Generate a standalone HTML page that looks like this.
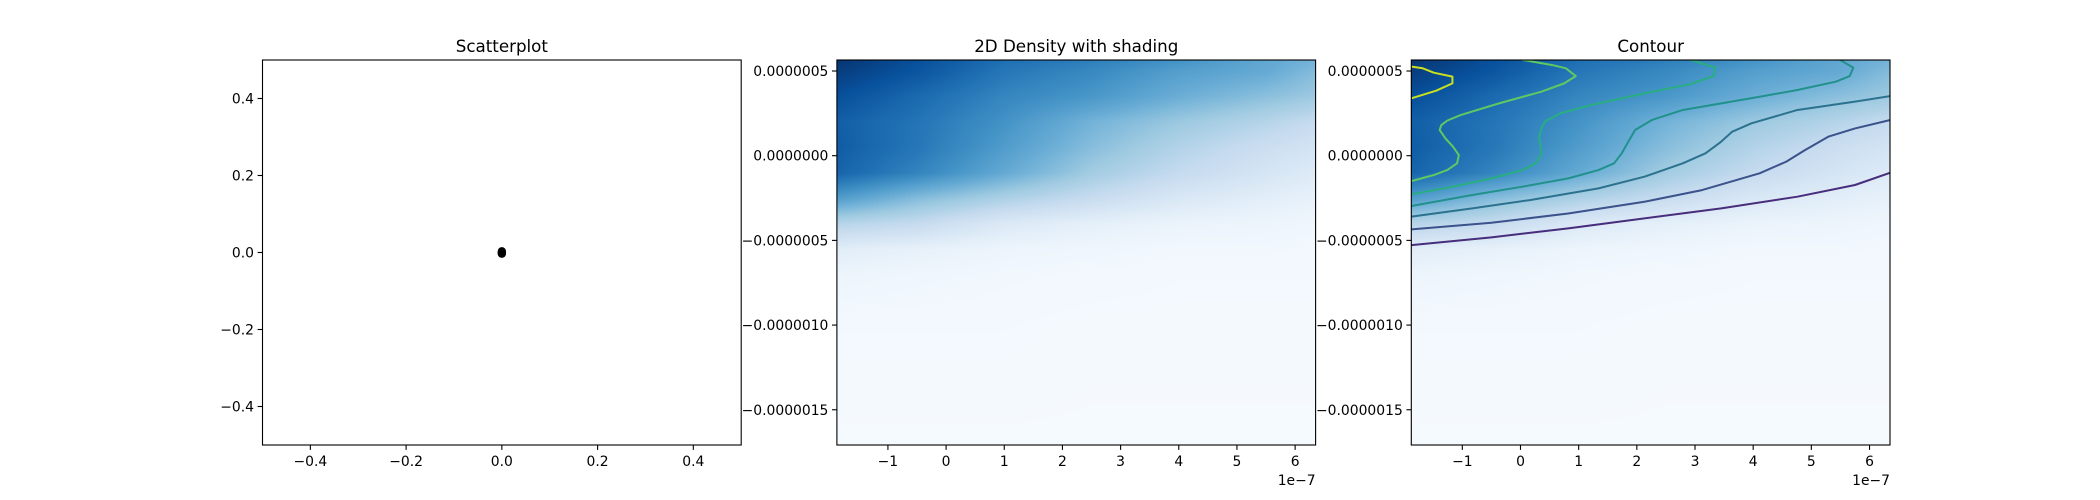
<!DOCTYPE html>
<html><head><meta charset="utf-8"><style>
body{margin:0;background:#fff;}
#wrap{position:relative;width:2100px;height:500px;overflow:hidden;font-family:"DejaVu Sans","Liberation Sans",sans-serif;}
canvas{position:absolute;}
svg{position:absolute;left:0;top:0;}
</style></head><body>
<div id="wrap">
<canvas id="c1" width="479" height="385" style="left:837px;top:60px"></canvas>
<canvas id="c2" width="479" height="385" style="left:1411px;top:60px"></canvas>
<svg id="svg" width="2100" height="500"></svg>
</div>
<script>
// ---- data ----
const scatterX = [0, 0, 0];
const scatterY = [0, 0.003, -0.003];
const scatterTicks = [-0.4, -0.2, 0.0, 0.2, 0.4];
const scatterTickLabels = ["\u22120.4", "\u22120.2", "0.0", "0.2", "0.4"];
const densXTicks = [-1, 0, 1, 2, 3, 4, 5, 6];
const densXTickLabels = ["\u22121", "0", "1", "2", "3", "4", "5", "6"];
const densYTicks = [5, 0, -5, -10, -15];
const densYTickLabels = ["0.0000005", "0.0000000", "\u22120.0000005", "\u22120.0000010", "\u22120.0000015"];
// density grid (x in 1e-7, y in 1e-7)
const gridX = [-1.875, -0.5, 1, 2.5, 4, 5.5, 6.35];
const gridY = [5.65, 5, 3.5, 2, 0.5, -1, -2.5, -4, -5.5, -7, -10, -17.1];
const gridCols = [
 [0.98,0.95,0.88,0.82,0.83,0.80,0.58,0.30,0.11,0.05,0.02,0.01],
 [0.88,0.86,0.78,0.74,0.73,0.68,0.44,0.25,0.08,0.04,0.02,0.01],
 [0.76,0.73,0.67,0.62,0.58,0.52,0.33,0.14,0.05,0.03,0.02,0.01],
 [0.70,0.66,0.60,0.48,0.43,0.36,0.24,0.09,0.04,0.025,0.015,0.01],
 [0.62,0.57,0.50,0.38,0.31,0.25,0.15,0.06,0.03,0.02,0.015,0.01],
 [0.53,0.52,0.42,0.30,0.22,0.17,0.10,0.05,0.03,0.02,0.015,0.01],
 [0.48,0.44,0.375,0.245,0.18,0.125,0.08,0.04,0.025,0.02,0.015,0.01]
];
// contour lines [x,y] pairs in 1e-7 units
const contourLevels = ["c1","c2","c3","c4","c5","c6","c7"];
const contourColors = ["#472d7b","#3b528b","#2c728e","#21918c","#28ae80","#5ec962","#c8e020"];
const contourLines = [
 [[-1.875,-5.28],[-0.5,-4.82],[0.82,-4.29],[2.13,-3.70],[3.45,-3.11],[4.76,-2.42],[5.75,-1.73],[6.36,-1.0]],
 [[-1.875,-4.35],[-0.5,-3.96],[0.82,-3.41],[2.13,-2.72],[3.12,-2.03],[4.11,-1.04],[4.57,-0.35],[4.89,0.33],[5.29,1.12],[5.75,1.61],[6.36,2.11]],
 [[-1.875,-3.60],[-0.83,-3.11],[0.16,-2.62],[1.34,-1.93],[2.13,-1.24],[2.79,-0.45],[3.18,0.14],[3.45,0.83],[3.64,1.42],[3.97,1.91],[4.76,2.70],[5.75,3.19],[6.36,3.52]],
 [[-1.875,-2.97],[-0.83,-2.32],[0.03,-1.83],[0.82,-1.34],[1.34,-0.85],[1.61,-0.45],[1.74,0.14],[1.87,0.93],[1.97,1.52],[2.26,2.11],[2.79,2.70],[3.45,3.09],[4.11,3.48],[4.76,3.88],[5.42,4.37],[5.66,4.70],[5.72,5.20],[5.49,5.66]],
 [[-1.875,-2.28],[-1.16,-1.83],[-0.5,-1.34],[0.03,-0.85],[0.26,-0.45],[0.36,0.14],[0.32,1.12],[0.36,1.61],[0.42,2.01],[0.68,2.50],[1.21,2.99],[2.13,3.68],[2.92,4.23],[3.32,4.70],[3.35,5.20],[2.92,5.66]],
 [[-1.875,-1.50],[-1.49,-1.14],[-1.26,-0.85],[-1.09,-0.45],[-1.06,0.04],[-1.16,0.53],[-1.29,1.02],[-1.39,1.52],[-1.36,1.81],[-1.26,2.07],[-1.03,2.40],[-0.37,3.09],[0.36,3.78],[0.75,4.27],[0.95,4.70],[0.78,5.16],[0.55,5.35],[0.03,5.66]],
 [[-1.875,3.39],[-1.45,3.84],[-1.17,4.27],[-1.17,4.67],[-1.49,4.90],[-1.68,5.16],[-1.875,5.26]]
];
// ---- layout ----
const T=60,B=445,H=385;
const ax=[{l:262.5,r:741.2},{l:836.9,r:1315.6},{l:1411.3,r:1890}];
const NS="http://www.w3.org/2000/svg";
const svg=document.getElementById('svg');
function el(tag,attrs,parent){const e=document.createElementNS(NS,tag);for(const k in attrs)e.setAttribute(k,attrs[k]);(parent||svg).appendChild(e);return e;}
const dx0=-1.877,dx1=6.352,dy0=-17.08,dy1=5.65;
function sx(i,v){return ax[i].l+(v-(-0.5))/1*(ax[i].r-ax[i].l);}
function sy(v){return B-(v+0.5)/1*H;}
function dxs(i,v){return ax[i].l+(v-dx0)/(dx1-dx0)*(ax[i].r-ax[i].l);}
function dys(v){return B-(v-dy0)/(dy1-dy0)*H;}
// Blues colormap
const bl=[[247,251,255],[222,235,247],[198,219,239],[158,202,225],[107,174,214],[66,146,198],[33,113,181],[8,81,156],[8,48,107]];
function blues(v){v=Math.max(0,Math.min(1,v))*8;const i=Math.min(7,Math.floor(v)),f=v-i;return bl[i].map((c,k)=>c+(bl[i+1][k]-c)*f);}
function interp1(arr,v){for(let i=0;i<arr.length-1;i++){const a=arr[i],b=arr[i+1];if((v-a)*(v-b)<=0){return [i,(v-a)/(b-a)];}}return v<arr[0]===(arr[0]<arr[1])?[0,0]:[arr.length-2,1];}
function dens(x,y){const [i,fx]=interp1(gridX,x);const [j,fy]=interp1(gridY,y);
 const a=gridCols[i][j],b=gridCols[i+1][j],c=gridCols[i][j+1],d=gridCols[i+1][j+1];
 return (a*(1-fx)+b*fx)*(1-fy)+(c*(1-fx)+d*fx)*fy;}
function paint(id){const cv=document.getElementById(id);const ctx=cv.getContext('2d');const w=cv.width,h=cv.height;const img=ctx.createImageData(w,h);
 for(let py=0;py<h;py++){const y=dy1-(py+0.5)/h*(dy1-dy0);for(let px=0;px<w;px++){const x=dx0+(px+0.5)/w*(dx1-dx0);const c=blues(dens(x,y));const o=(py*w+px)*4;img.data[o]=c[0];img.data[o+1]=c[1];img.data[o+2]=c[2];img.data[o+3]=255;}}
 ctx.putImageData(img,0,0);}
paint('c1');paint('c2');
const titles=["Scatterplot","2D Density with shading","Contour"];
const fs=13.9;
for(let i=0;i<3;i++){
 const g=el('g',{});
 const t=el('text',{x:(ax[i].l+ax[i].r)/2,y:52,'text-anchor':'middle','font-size':16.7,fill:'#000'},g);t.textContent=titles[i];
 
 
 if(i===0){
  scatterX.forEach((x,k)=>{const c=el('circle',{cx:sx(0,x),cy:sy(scatterY[k]),r:4.2,fill:'#000'},g);
   
   });
  scatterTicks.forEach((v,k)=>{const X=sx(0,v);el('line',{x1:X,x2:X,y1:B,y2:B+4.9,stroke:'#000','stroke-width':1.1},g);
   const tx=el('text',{x:X,y:B+21,'text-anchor':'middle','font-size':fs},g);tx.textContent=scatterTickLabels[k];
   
   
   const Y=sy(v);el('line',{x1:ax[0].l,x2:ax[0].l-4.9,y1:Y,y2:Y,stroke:'#000','stroke-width':1.1},g);
   const ty=el('text',{x:ax[0].l-8.5,y:Y+5,'text-anchor':'end','font-size':fs},g);ty.textContent=scatterTickLabels[k];
   
   });
 } else {
  if(i===2){
   const cp=el('clipPath',{id:'clip3'});el('rect',{x:ax[2].l,y:T,width:ax[2].r-ax[2].l,height:H},cp);
   contourLines.forEach((ln,k)=>{const p=el('polyline',{points:ln.map(q=>dxs(2,q[0])+','+dys(q[1])).join(' '),fill:'none',stroke:contourColors[k],'stroke-width':2,'clip-path':'url(#clip3)','stroke-linejoin':'round'},g);
    
    });
  }
  densXTicks.forEach((v,k)=>{const X=dxs(i,v);el('line',{x1:X,x2:X,y1:B,y2:B+4.9,stroke:'#000','stroke-width':1.1},g);
   const tx=el('text',{x:X,y:B+21,'text-anchor':'middle','font-size':fs},g);tx.textContent=densXTickLabels[k];
   
   });
  densYTicks.forEach((v,k)=>{const Y=dys(v);el('line',{x1:ax[i].l,x2:ax[i].l-4.9,y1:Y,y2:Y,stroke:'#000','stroke-width':1.1},g);
   const ty=el('text',{x:ax[i].l-8.5,y:Y+5,'text-anchor':'end','font-size':fs},g);ty.textContent=densYTickLabels[k];
   
   });
  const off=el('text',{x:ax[i].r,y:B+40,'text-anchor':'end','font-size':fs},g);off.textContent="1e\u22127";
  
  
 }
 const fr=el('rect',{x:ax[i].l,y:T,width:ax[i].r-ax[i].l,height:H,fill:'none',stroke:'#000','stroke-width':1.1},g);
 
 
}
</script>
</body></html>
